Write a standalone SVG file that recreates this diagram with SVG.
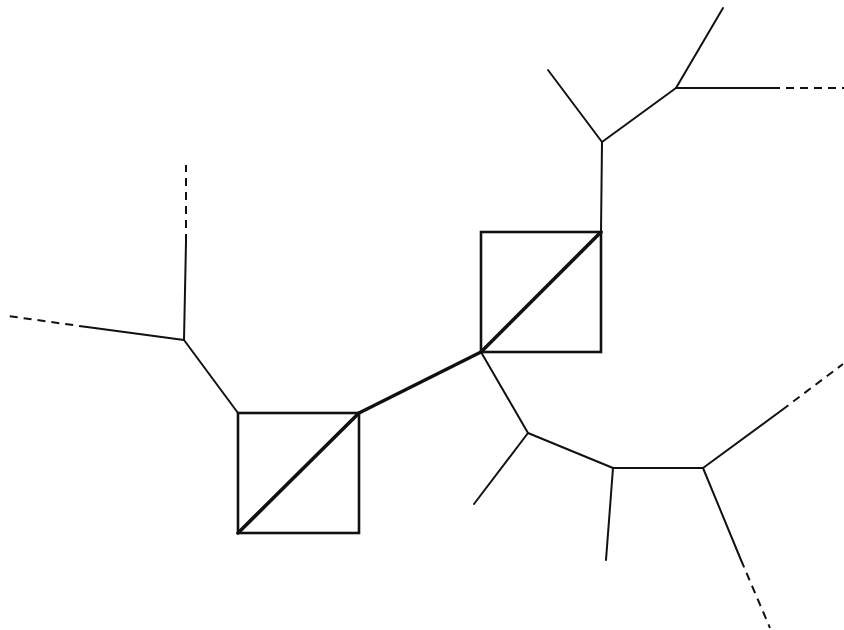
<svg xmlns="http://www.w3.org/2000/svg" width="844" height="630" viewBox="0 0 844 630">
<style>
.l{stroke:#111;stroke-width:2;fill:none;stroke-linecap:round;stroke-linejoin:round}
.d{stroke:#111;stroke-width:2;fill:none;stroke-dasharray:8 6}
.sq{stroke:#111;stroke-width:2.6;fill:none}
.t{stroke:#111;stroke-width:3.6;fill:none;stroke-linecap:round}
</style>
<rect width="844" height="630" fill="#fff"/>
<g id="square1">
<rect class="sq" x="238" y="413" width="121" height="120"/>
<line class="t" x1="238" y1="533" x2="359" y2="413"/>
</g>
<g id="square2">
<rect class="sq" x="481" y="232" width="120" height="120"/>
<line class="t" x1="481" y1="352" x2="601" y2="232"/>
</g>
<g id="connectors">
<line class="t" x1="359" y1="413" x2="481" y2="352"/>
<polyline class="l" points="238,413 184,340 186,242"/>
<line class="d" x1="186" y1="242" x2="186" y2="165"/>
<line class="l" x1="184" y1="340" x2="87" y2="327"/>
<line class="d" x1="87" y1="327" x2="8" y2="316"/>
<polyline class="l" points="601,232 602,142 548,70"/>
<polyline class="l" points="602,142 676,88 723,8"/>
<line class="l" x1="676" y1="88" x2="772" y2="88"/>
<line class="d" x1="772" y1="88" x2="844" y2="88"/>
<polyline class="l" points="481,352 528,433 474,504"/>
<polyline class="l" points="528,433 613,468 606,560"/>
<line class="l" x1="613" y1="468" x2="703" y2="468"/>
<line class="l" x1="703" y1="468" x2="782" y2="410"/>
<line class="d" x1="782" y1="410" x2="843" y2="364"/>
<line class="l" x1="703" y1="468" x2="741" y2="560"/>
<line class="d" x1="741" y1="560" x2="770" y2="628"/>
</g>
</svg>
